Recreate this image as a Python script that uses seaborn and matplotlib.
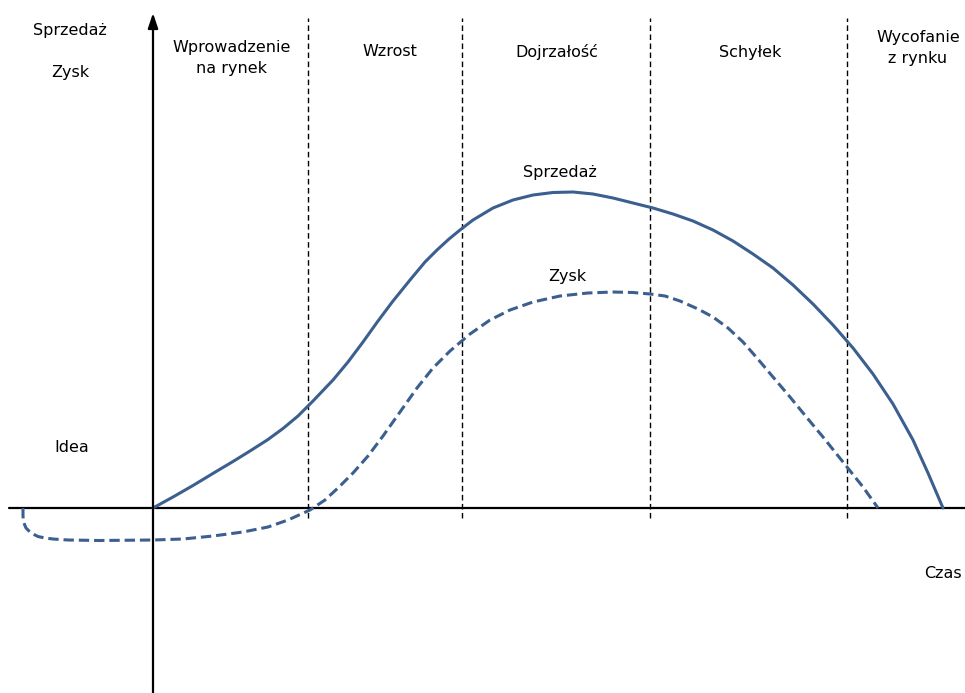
import numpy as np
import pandas as pd
import seaborn as sns
import matplotlib.pyplot as plt

sns.set_style('white')
plt.rcParams['font.family'] = ['DejaVu Sans']
plt.rcParams['text.color'] = 'black'

# czas (t) i wartości krzywych
sales_t = [0, 20, 40, 64, 80, 97, 115, 130, 145, 160, 180, 195, 210, 225,
           240, 257, 272, 284, 296, 307, 320, 340, 360, 380, 400, 420, 440,
           460, 480, 500, 520, 540, 560, 580, 600, 620, 640, 660, 680, 700,
           720, 740, 760, 775, 790]
sales_v = [0, 11, 22.5, 37, 46.5, 57, 68.5, 79.5, 92, 107, 128, 146, 166, 187,
           207, 228, 246, 258, 269, 278, 288, 300, 308, 313, 315.5, 316, 314,
           310, 305, 300, 294, 287, 278, 267, 254, 240, 223, 204, 183, 160,
           134, 104, 68, 35, 0]

profit_t = [-130, -130, -129.5, -127, -124, -120, -115, -108, -100, -85,
            -53, 0, 30, 60, 90, 115, 135, 157, 172, 186, 200, 215, 230, 247,
            264, 280, 297, 317, 337, 357, 380, 407, 435, 460, 480, 497, 512,
            527, 545, 560, 575, 590, 604, 620, 637, 655, 670, 694, 710, 725]
profit_v = [0, -8, -14, -20, -23, -26, -28.5, -30, -31, -32,
            -32.5, -32, -31, -28, -24, -19, -12, -2, 8, 21, 35, 52, 72, 96,
            120, 140, 157, 174, 188, 198, 206, 212, 215, 216, 215.5, 214, 212,
            207, 199, 191, 180, 166, 150, 131, 111, 89, 71, 41, 21, 0]

# granice etapów cyklu życia
phase_bounds = [155, 309, 497, 694]
phase_labels = ['Wprowadzenie\nna rynek', 'Wzrost', 'Dojrzałość', 'Schyłek', 'Wycofanie\nz rynku']
phase_label_t = [79, 237, 404, 597, 765]
phase_label_v = [450, 456, 456, 456, 460]

df = pd.concat([
    pd.DataFrame({'t': sales_t, 'v': sales_v, 'seria': 'Sprzedaż'}),
    pd.DataFrame({'t': profit_t, 'v': profit_v, 'seria': 'Zysk'}),
], ignore_index=True)

blue = '#3b5f8f'
fig = plt.figure(figsize=(9.65, 6.93), dpi=100)
ax = fig.add_axes([0, 0, 1, 1])

sns.lineplot(data=df, x='t', y='v', hue='seria', style='seria',
             palette={'Sprzedaż': blue, 'Zysk': blue},
             dashes={'Sprzedaż': '', 'Zysk': (3.4, 1.6)},
             sort=False, estimator=None, linewidth=2.2, legend=False, ax=ax,
             solid_joinstyle='round', dash_joinstyle='round')

# osie
ax.plot([-144, 812], [0, 0], color='black', lw=1.6, zorder=1)
ax.annotate('', xy=(0, 495), xytext=(0, -185),
            arrowprops=dict(arrowstyle='-|>,head_length=0.9,head_width=0.3',
                            color='black', lw=1.6, shrinkA=0, shrinkB=0))

for b in phase_bounds:
    ax.plot([b, b], [-10, 490], color='black', lw=1.0,
            linestyle=(0, (4, 2.5)), zorder=1)

fs = 11.5
for lab, x, y in zip(phase_labels, phase_label_t, phase_label_v):
    ax.text(x, y, lab, ha='center', va='center', fontsize=fs, linespacing=1.45)

ax.text(-83, 478, 'Sprzedaż', ha='center', va='center', fontsize=fs)
ax.text(-83, 436, 'Zysk', ha='center', va='center', fontsize=fs)
ax.text(-81, 60, 'Idea', ha='center', va='center', fontsize=fs)
ax.text(407, 335, 'Sprzedaż', ha='center', va='center', fontsize=fs)
ax.text(414, 232, 'Zysk', ha='center', va='center', fontsize=fs)
ax.text(809, -65, 'Czas', ha='right', va='center', fontsize=fs)

ax.set_xlim(-153, 812)
ax.set_ylim(-185, 508)
ax.set_axis_off()

fig.savefig('out.png', dpi=100)
